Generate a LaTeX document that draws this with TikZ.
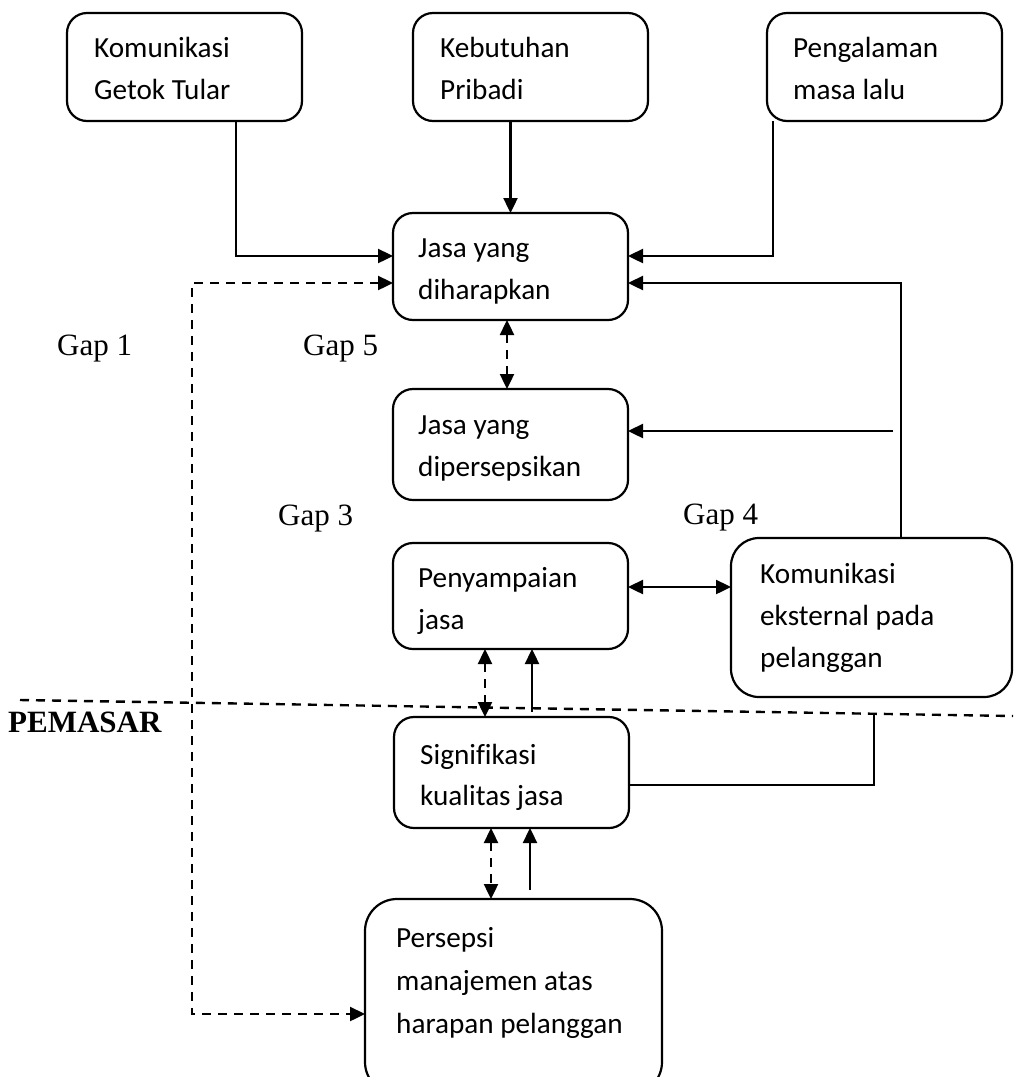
\documentclass[tikz,border=0pt]{standalone}
\usepackage{fontspec}
\setmainfont{Carlito}[Ligatures={TeX,NoCommon}]
\newfontfamily\tms{Liberation Serif}
\usetikzlibrary{arrows.meta}
\begin{document}
\begin{tikzpicture}[x=1pt,y=-1pt,
  box/.style={draw, line width=2.2pt, rounded corners=20pt, inner sep=0pt, outer sep=0pt, anchor=north west},
  txt/.style={anchor=base west, inner sep=0pt, font=\fontsize{29.2}{34}\selectfont},
  gaplbl/.style={anchor=base west, inner sep=0pt, font=\tms\fontsize{31}{36}\selectfont},
  conn/.style={line width=2.4pt, -{Triangle[length=15pt,width=14pt]}},
  both/.style={line width=2.4pt, {Triangle[length=15pt,width=14pt]}-{Triangle[length=15pt,width=14pt]}},
  dsh/.style={dash pattern=on 9pt off 7pt}
]
\useasboundingbox (0,0) rectangle (1013,1077);
\clip (0,0) rectangle (1013,1077);

% boxes
\node[box, minimum width=235pt, minimum height=108pt] (b1) at (67,13) {};
\node[box, minimum width=235pt, minimum height=108pt] (b2) at (413,13) {};
\node[box, minimum width=235pt, minimum height=108pt] (b3) at (767,13) {};
\node[box, minimum width=235pt, minimum height=107pt] (exp) at (393,213) {};
\node[box, minimum width=235pt, minimum height=111pt] (per) at (393,389) {};
\node[box, minimum width=235pt, minimum height=106pt] (pen) at (393,543) {};
\node[box, minimum width=281pt, minimum height=159pt, rounded corners=28pt] (kom) at (731,538) {};
\node[box, minimum width=235pt, minimum height=111pt] (sig) at (394,717) {};
\node[box, minimum width=297pt, minimum height=195pt, rounded corners=32pt] (mgmt) at (365,899) {};

% box texts
\node[txt] (t1a) at (94,57) {Komunikasi};
\node[txt] (t1b) at (94,99) {Getok Tular};
\node[txt] (t2a) at (440,57) {Kebutuhan};
\node[txt] (t2b) at (440,99) {Pribadi};
\node[txt] (t3a) at (793,57) {Pengalaman};
\node[txt] (t3b) at (793,99) {masa lalu};
\node[txt] (t4a) at (418,257) {Jasa yang};
\node[txt] (t4b) at (418,299) {diharapkan};
\node[txt] (t5a) at (418,434) {Jasa yang};
\node[txt] (t5b) at (418,476) {dipersepsikan};
\node[txt] (t6a) at (418,587) {Penyampaian};
\node[txt] (t6b) at (418,629) {jasa};
\node[txt] (t7a) at (760,583) {Komunikasi};
\node[txt] (t7b) at (760,625) {eksternal pada};
\node[txt] (t7c) at (760,667) {pelanggan};
\node[txt] (t8a) at (420,764) {Signifikasi};
\node[txt] (t8b) at (420,805) {kualitas jasa};
\node[txt] (t9a) at (396,947) {Persepsi};
\node[txt] (t9b) at (396,990) {manajemen atas};
\node[txt] (t9c) at (396,1033) {harapan pelanggan};

% gap labels
\node[gaplbl] (g1) at (57,355) {Gap 1};
\node[gaplbl] (g5) at (303,355) {Gap 5};
\node[gaplbl] (g3) at (278,525) {Gap 3};
\node[gaplbl] (g4) at (683,524) {Gap 4};
\node[gaplbl, font=\tms\bfseries\fontsize{31}{36}\selectfont] (pm) at (8,732) {PEMASAR};

% coordinates for free ends
\coordinate (lx) at (192,600);
\coordinate (pin) at (893,431);
\coordinate (s1) at (532,712);
\coordinate (s2) at (874,713);
\coordinate (s3) at (530,890);
\coordinate (d1) at (20,700);
\coordinate (d2) at (1013,716);

% connectors
\draw[conn] ([xshift=169pt]b1.south west) |- ([yshift=-43pt]exp.north west);
\draw[conn] (exp.north |- b2.south) -- (exp.north);
\draw[conn] ([xshift=6pt]b3.south west) |- ([yshift=-43pt]exp.north east);
\draw[conn] ([xshift=170pt]kom.north west) |- ([yshift=-70pt]exp.north east);
\draw[conn] (pin) -- (pin -| per.east);
\draw[both, dsh] ([xshift=114pt]exp.south west) -- ([xshift=114pt]per.north west);
\draw[both, dsh] ([yshift=-70pt]exp.north west) -| (lx) |- ([yshift=-115pt]mgmt.north west);
\draw[both] ([yshift=-44pt]pen.north east) -- ([yshift=-44pt]pen.north east -| kom.west);
\draw[both, dsh] ([xshift=92pt]pen.south west) -- ([xshift=92pt]pen.south west |- sig.north);
\draw[conn] (s1) -- (s1 |- pen.south);
\draw[line width=1.6pt] ([yshift=-68pt]sig.north east) -| (s2);
\draw[both, dsh] ([xshift=97pt]sig.south west) -- ([xshift=97pt]sig.south west |- mgmt.north);
\draw[conn] (s3) -- (s3 |- sig.south);
\draw[line width=2.4pt, dsh] (d1) -- (d2);
\end{tikzpicture}
\end{document}
